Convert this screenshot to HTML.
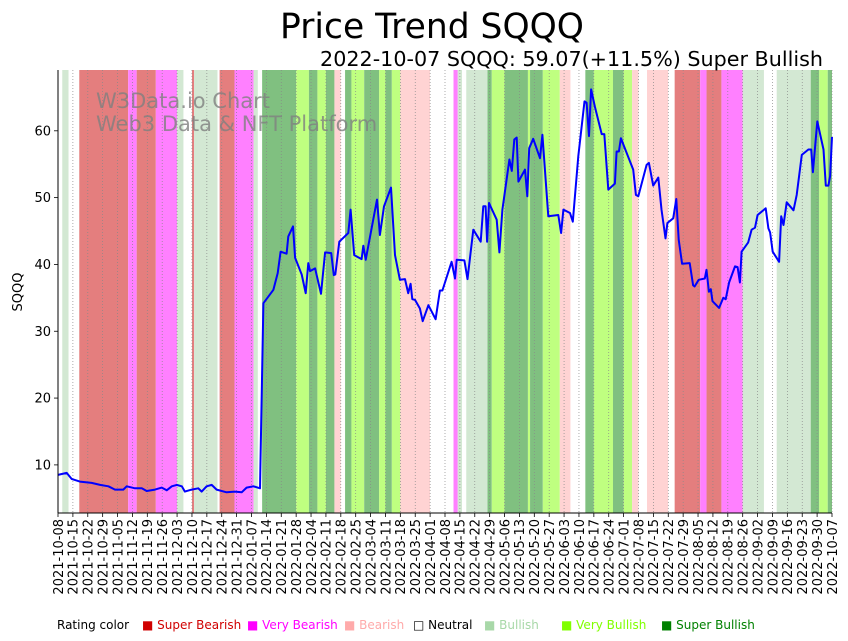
<!DOCTYPE html>
<html><head><meta charset="utf-8"><style>
body{margin:0;background:#fff;}
svg{display:block;font-family:"DejaVu Sans","Liberation Sans",sans-serif;}
</style></head><body>
<svg id="chart" width="848" height="641" viewBox="0 0 848 641" xmlns="http://www.w3.org/2000/svg">
<g id="bands"></g>
<g id="grid"></g>
<text x="96" y="108" font-size="21" fill="#808080" fill-opacity="0.8">W3Data.io Chart</text>
<text x="96" y="131" font-size="21" fill="#808080" fill-opacity="0.8">Web3 Data &amp; NFT Platform</text>
<g id="line"></g>
<g id="axes"></g>
<text x="432" y="38" font-size="34.5" text-anchor="middle" fill="#000">Price Trend SQQQ</text>
<text x="823" y="66" font-size="20.7" text-anchor="end" fill="#000">2022-10-07 SQQQ: 59.07(+11.5%) Super Bullish</text>
<text transform="translate(22,292) rotate(-90)" font-size="13" text-anchor="middle">SQQQ</text>
<g font-size="12">
<text x="57" y="629" fill="#000">Rating color</text>
<text x="142" y="629" fill="#d00000">■ Super Bearish</text>
<text x="247" y="629" fill="#ff00ff">■ Very Bearish</text>
<text x="344" y="629" fill="#ffaaaa">■ Bearish</text>
<text x="413" y="629" fill="#000">□ Neutral</text>
<text x="484" y="629" fill="#a8d8a8">■ Bullish</text>
<text x="561" y="629" fill="#80ff00">■ Very Bullish</text>
<text x="661" y="629" fill="#008000">■ Super Bullish</text>
</g>
</svg>
<script>
// band start days (offset from 2021-10-08) and ratings
const bandStarts=[0,2,5,10,33,37,46,56,59,63,64,75,76,83,92,94,96,112,118,122,126,130,133,135,138,144,151,154,157,161,175,186,188,190,192,202,204,210,221,222,228,236,241,248,252,261,266,270,273,277,287,290,302,305,312,322,332,338,354,358,362];
const bandRatings=["N","Bu","N","SBe","VBe","SBe","VBe","Bu","N","SBe","Bu","N","SBe","VBe","Bu","N","SBu","VBu","SBu","VBu","SBu","Be","N","SBu","VBu","SBu","VBu","SBu","VBu","Be","N","VBe","Bu","N","Bu","SBu","VBu","SBu","VBu","SBu","VBu","Be","N","SBu","VBu","SBu","VBu","Be","N","Be","N","SBe","VBe","SBe","VBe","Bu","N","Bu","SBu","VBu","SBu"];
const priceDays=[0,4.1,6.4,10.3,15.8,19.8,23.7,26.8,30.7,32.3,36.2,39.4,41.7,45.6,48.8,51.1,53.5,55.8,58.2,59.7,62.9,66,67.6,69.9,72.3,74.6,79.3,83.2,86.4,88.7,91.9,95,96.6,101.3,103.3,104.7,107.5,108.3,110.5,111.5,114.6,116.5,117.7,118.5,
120.9,123.7,125.6,128.5,129.7,130.4,132.3,136.5,137.6,139.3,142.8,143.6,144.7,150.0,151.4,153.3,156.6,158.5,160.8,163.2,164.7,165.8,166.6,167.9,170.2,171.5,174.2,177.6,179.6,180.8,185.1,186.7,187.5,191.1,192.6,195.3,198.8,200.0,201.1,201.8,202.7,206.3,207.6,209.0,212.3,213.4,214.6,215.7,216.5,219.6,220.7,221.6,223.5,226.7,227.8,230.6,235.3,236.6,237.7,240.8,242.1,244.7,247.6,
248.6,249.7,250.7,252.5,255.7,256.9,258.8,261.9,262.7,263.8,264.7,270.5,271.8,272.9,276.8,277.9,279.9,282.3,283.8,285.7,286.6,289.3,290.8,291.9,293.5,297.1,298.7,299.4,301.3,304.2,305.0,306.1,307.0,307.8,310.9,312.9,314.0,315.6,318.4,319.6,320.7,321.5,324.6,326.2,327.8,329.0,332.8,334.1,334.9,336.1,339.1,340.1,341.2,342.7,345.9,347.4,349.8,352.9,354.2,355.0,357.1,360.0,361.1,362.3,363.1,364];
const priceValues=[8.5,8.8,7.9,7.5,7.3,7.0,6.8,6.3,6.3,6.8,6.5,6.5,6.1,6.3,6.6,6.2,6.8,7.0,6.8,6.0,6.3,6.5,6.0,6.8,7.0,6.3,5.9,6.0,5.9,6.6,6.8,6.5,34.2,36.2,38.7,41.9,41.6,44.2,45.7,41.0,38.5,35.7,40.2,39.0,
39.4,35.6,41.8,41.7,38.4,38.5,43.4,44.7,48.2,41.4,40.8,42.8,40.7,49.7,44.4,48.7,51.5,41.4,37.7,37.8,35.7,37.1,34.8,34.7,33.4,31.5,33.9,31.8,36.1,36.1,40.4,37.9,40.7,40.6,37.8,45.2,43.4,48.7,48.7,43.4,49.2,46.7,41.8,48.2,55.7,54.0,58.7,59.0,52.4,54.2,50.2,57.4,58.8,55.9,59.4,47.2,47.4,44.7,48.2,47.7,46.4,56.2,64.4,
64.2,59.2,66.2,63.6,59.5,59.5,51.2,52.1,56.9,56.9,58.9,54.2,50.4,50.2,54.9,55.2,51.8,53.0,48.2,43.9,46.2,46.9,49.8,43.7,40.1,40.2,36.9,36.7,37.7,37.9,39.2,35.9,36.3,34.5,33.5,35.0,34.8,37.3,39.7,39.6,37.3,41.9,43.3,45.2,45.5,47.4,48.4,45.4,44.8,41.9,40.4,47.2,45.9,49.3,48.1,50.4,56.4,57.2,57.2,53.8,61.4,57.2,51.8,51.8,53.2,59.07];
const yTicks=[10,20,30,40,50,60];
const startDate=Date.UTC(2021,9,8);
const tickLabels=[];
for(let i=0;i<=52;i++){tickLabels.push(new Date(startDate+i*7*86400000).toISOString().slice(0,10));}

const NS="http://www.w3.org/2000/svg";
const X0=58,X1=832,Y0=70,Y1=513,DAYS=364,VMIN=2.8,VMAX=69.1;
function xs(d){return X0+(d/DAYS)*(X1-X0);}
function ys(v){return Y1-(v-VMIN)/(VMAX-VMIN)*(Y1-Y0);}
function mk(tag,attrs,parent){const e=document.createElementNS(NS,tag);for(const k in attrs)e.setAttribute(k,attrs[k]);parent.appendChild(e);return e;}
const colors={N:"#ffffff",Bu:"#d3e8d3",VBu:"#bfff80",SBu:"#80c080",Be:"#ffd3d3",VBe:"#ff80ff",SBe:"#e47e7e"};
const bands=document.getElementById('bands');
for(let i=0;i<bandStarts.length;i++){
  const s=bandStarts[i],e=(i+1<bandStarts.length)?bandStarts[i+1]:DAYS;
  const r=mk('rect',{x:xs(s),y:Y0,width:xs(e)-xs(s),height:Y1-Y0,fill:colors[bandRatings[i]]},bands);
  
  
}
const grid=document.getElementById('grid');
const axes=document.getElementById('axes');
tickLabels.forEach((lab,i)=>{
  const x=xs(i*7);
  const g=mk('line',{x1:x,x2:x,y1:Y0,y2:Y1,stroke:"#888",'stroke-width':0.7,'stroke-dasharray':"1,2"},grid);
  
  
  const t=mk('line',{x1:x,x2:x,y1:Y1,y2:Y1+4,stroke:"#000",'stroke-width':0.8},axes);
  
  
  const tx=mk('text',{transform:`translate(${x+4.8},${Y1+6}) rotate(-90)`,'font-size':13,'text-anchor':'end'},axes);
  tx.textContent=lab;
  
  
});
yTicks.forEach(v=>{
  const y=ys(v);
  const t=mk('line',{x1:X0-4,x2:X0,y1:y,y2:y,stroke:"#000",'stroke-width':0.8},axes);
  
  
  const tx=mk('text',{x:X0-7,y:y+4.5,'font-size':13,'text-anchor':'end'},axes);
  tx.textContent=v;
  
  
});
const ax1=mk('line',{x1:X0,x2:X0,y1:Y0,y2:Y1,stroke:"#000",'stroke-width':1},axes);


const ax2=mk('line',{x1:X0,x2:X1,y1:Y1,y2:Y1,stroke:"#000",'stroke-width':1},axes);


const pts=priceDays.map((d,i)=>xs(d).toFixed(1)+","+ys(priceValues[i]).toFixed(1)).join(" ");
const pl=mk('polyline',{points:pts,fill:"none",stroke:"#0000ff",'stroke-width':2,'stroke-linejoin':'round'},document.getElementById('line'));


</script>
</body></html>
